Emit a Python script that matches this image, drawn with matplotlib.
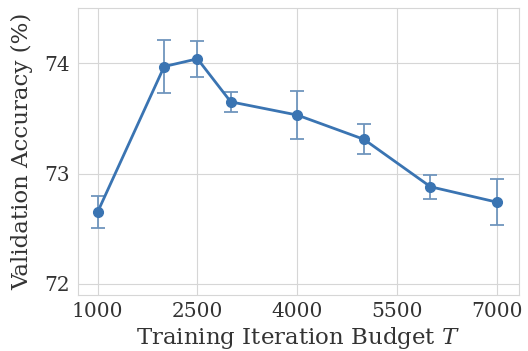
import numpy as np
import matplotlib.pyplot as plt
import seaborn as sns

budget = [1000, 2000, 2500, 3000, 4000, 5000, 6000, 7000]
acc = [72.65, 73.97, 74.04, 73.65, 73.53, 73.31, 72.88, 72.74]
err = [0.145, 0.24, 0.165, 0.09, 0.22, 0.135, 0.11, 0.21]
xticks = [1000, 2500, 4000, 5500, 7000]
yticks = [72, 73, 74]

sns.set_style('whitegrid')
plt.rcParams['font.family'] = ['DejaVu Serif']
plt.rcParams['mathtext.fontset'] = 'dejavuserif'

fig, ax = plt.subplots(figsize=(5.28, 3.51), dpi=100)
color = '#3a74b2'
ax.errorbar(budget, acc, yerr=err, fmt='none', ecolor='#6f95bd',
            elinewidth=1.3, capsize=5, capthick=1.3, zorder=2)
ax.plot(budget, acc, '-o', color=color, lw=2, ms=7, zorder=3)

ax.set_xlim(700, 7330)
ax.set_ylim(71.9, 74.5)
ax.set_xticks(xticks)
ax.set_yticks(yticks)
ax.tick_params(labelsize=14.5, colors='#333333', pad=2)
ax.set_xlabel('Training Iteration Budget $T$', fontsize=16.5, color='#333333', labelpad=2.5)
ax.set_ylabel('Validation Accuracy (%)', fontsize=16.5, color='#333333', labelpad=8)
for s in ax.spines.values():
    s.set_color('#d6d6d6')
ax.grid(color='#d6d6d6')

fig.subplots_adjust(left=0.147, right=0.983, top=0.977, bottom=0.16)
fig.savefig('out.png')
